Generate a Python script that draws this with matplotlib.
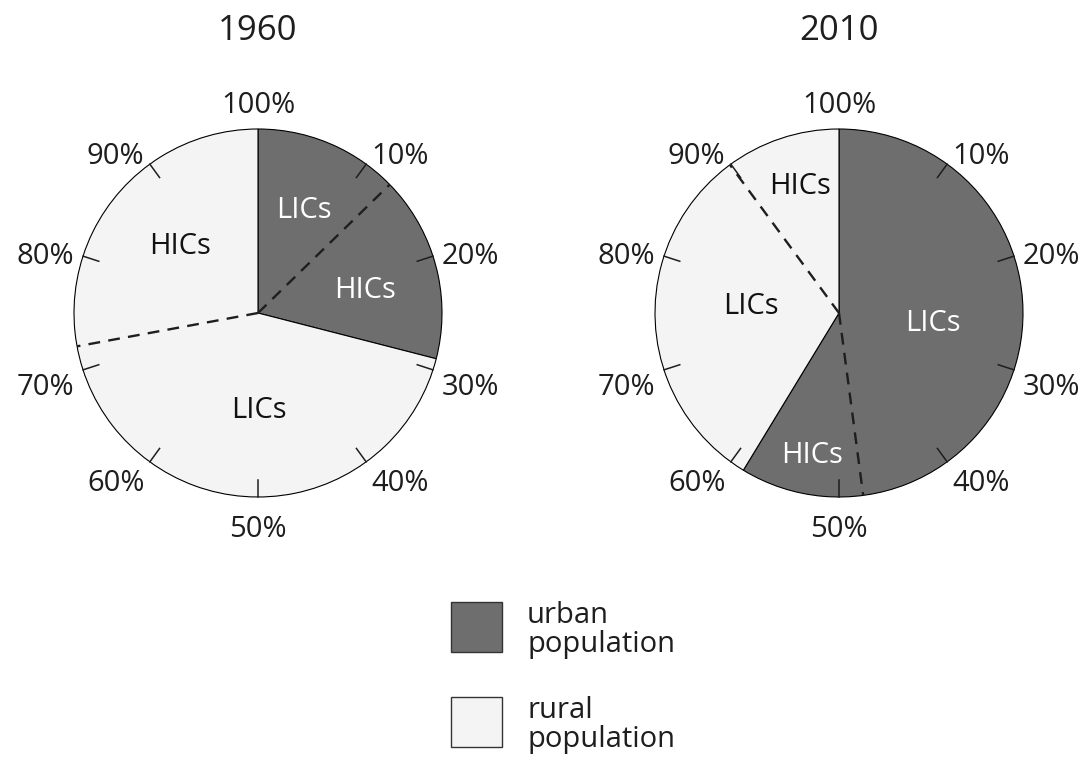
import numpy as np
import matplotlib
matplotlib.use('Agg')
from matplotlib import pyplot as plt
from matplotlib.patches import Rectangle

plt.rcParams['font.family'] = ['Open Sans', 'DejaVu Sans']

# shares of world population, % (read clockwise from the top)
years = ['1960', '2010']
urban_lics = [12.7, 47.9]   # urban, low income countries
urban_hics = [16.3, 10.8]   # urban, high income countries
rural_lics = [43.1, 31.2]   # rural, low income countries
rural_hics = [27.9, 10.1]   # rural, high income countries

# LICs/HICs text placement: radius (fraction of pie radius), angle nudge (degrees)
label_r = [[0.63, 0.60, 0.51, 0.57], [0.51, 0.77, 0.48, 0.74]]
label_nudge = [[0.6, 1.4, -2.4, 2.2], [8.0, -1.0, 9.0, 1.6]]

tick_labels = ['100%', '10%', '20%', '30%', '40%', '50%', '60%', '70%', '80%', '90%']

dark = '#6e6e6e'
light = '#f4f4f4'
ink = '#1e1e1e'

fig = plt.figure(figsize=(10.89, 7.65), dpi=100)
W, H = 1089, 765
R = 184      # pie radius in px
L = 1.3      # axis half-range in pie radii
S = 2 * L * R
centers = [(258, 313), (839, 313)]


def xy(frac, r=1.0):
    t = 2 * np.pi * frac
    return r * np.sin(t), r * np.cos(t)


for i, year in enumerate(years):
    cx, cy = centers[i]
    ax = fig.add_axes([(cx - S / 2) / W, (H - cy - S / 2) / H, S / W, S / H])

    urban = urban_lics[i] + urban_hics[i]
    rural = rural_lics[i] + rural_hics[i]
    ax.pie([urban, rural], colors=[dark, light], startangle=90, counterclock=False,
           radius=1, wedgeprops=dict(edgecolor='black', linewidth=0.8))
    ax.set_xlim(-L, L)
    ax.set_ylim(-L, L)
    ax.set_aspect('equal')
    ax.axis('off')

    # dashed splits between LICs and HICs
    for f in [urban_lics[i] / 100, (urban + rural_lics[i]) / 100]:
        x, y = xy(f)
        ax.plot([0, x], [0, y], color=ink, lw=1.7, ls=(0, (5, 3.5)))

    # ticks and percentage labels
    for k in range(10):
        x0, y0 = xy(k / 10, 0.91)
        x1, y1 = xy(k / 10, 1.0)
        if k > 0:
            ax.plot([x0, x1], [y0, y1], color=ink, lw=1.1)
        if k == 0:
            ha, va, r = 'center', 'bottom', 1.05
        elif k == 5:
            ha, va, r = 'center', 'top', 1.10
        else:
            ha = 'left' if k < 5 else 'right'
            if 3 <= k <= 7:
                va = 'top'
            elif k in (1, 9):
                va = 'center'
            else:
                va = 'center_baseline'
            r = 1.05
        tx, ty = xy(k / 10, r)
        ax.text(tx, ty, tick_labels[k], ha=ha, va=va, fontsize=21, color=ink)

    # slice labels
    bounds = np.cumsum([0, urban_lics[i], urban_hics[i], rural_lics[i], rural_hics[i]]) / 100
    names = ['LICs', 'HICs', 'LICs', 'HICs']
    tcols = ['white', 'white', '#111111', '#111111']
    for j in range(4):
        mid = (bounds[j] + bounds[j + 1]) / 2 + label_nudge[i][j] / 360
        tx, ty = xy(mid, label_r[i][j])
        ax.text(tx, ty, names[j], ha='center', va='center_baseline', fontsize=21, color=tcols[j])

    fig.text(cx / W, 1 - 27 / H, year, ha='center', va='center_baseline', fontsize=25, color=ink)

# legend
legend_items = [('urban\npopulation', dark, 602), ('rural\npopulation', light, 697)]
for txt, col, top in legend_items:
    fig.add_artist(Rectangle((451 / W, 1 - (top + 50) / H), 51 / W, 50 / H,
                             transform=fig.transFigure, facecolor=col, edgecolor='#333333', lw=1))
    fig.text(527 / W, 1 - (top + 28) / H, txt, ha='left', va='center', fontsize=21,
             linespacing=1.0, color=ink)

fig.savefig('out.png', dpi=100)
